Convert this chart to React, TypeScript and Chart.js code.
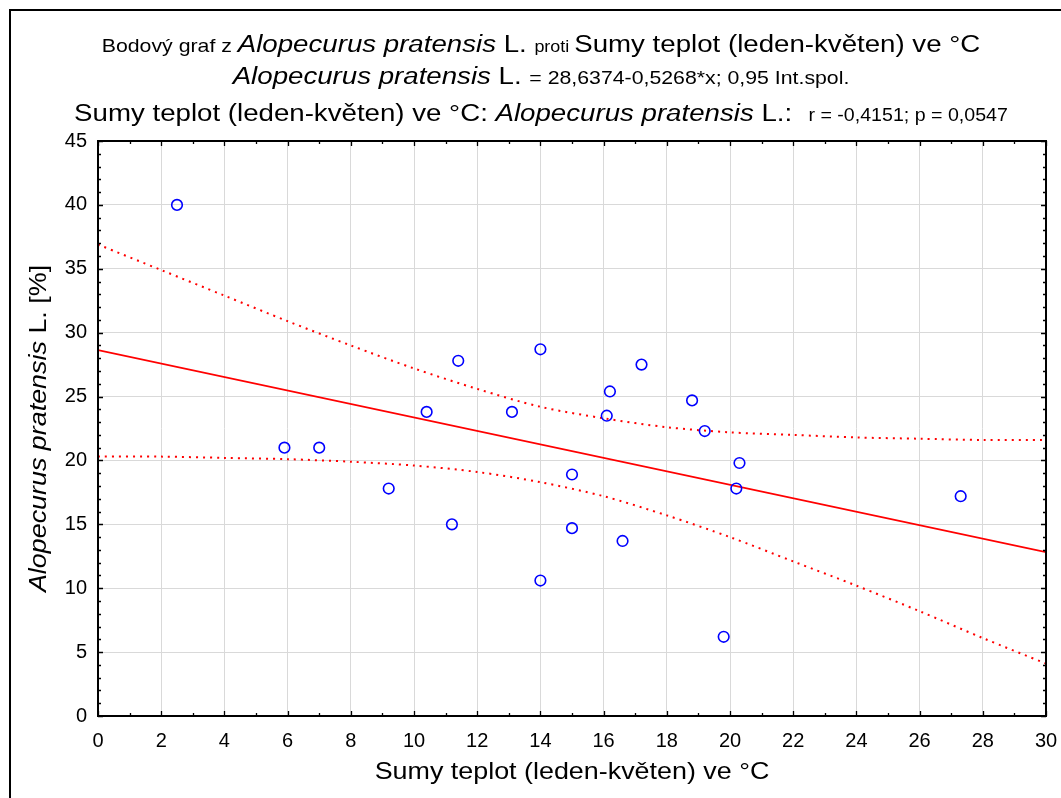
import React, { useEffect, useRef } from "react";
import { Chart, registerables } from "chart.js";

Chart.register(...registerables);

// Observed data (x: Sumy teplot, y: Alopecurus pratensis L. [%])
const sumyTeplot = [2.5, 5.9, 7.0, 9.2, 10.4, 11.2, 11.4, 13.1, 14.0, 14.0, 15.0, 15.0, 16.1, 16.2, 16.6, 17.2, 18.8, 19.2, 19.8, 20.2, 20.3, 27.3];
const alopecurus = [40.0, 21.0, 21.0, 17.8, 23.8, 15.0, 27.8, 23.8, 28.7, 10.6, 18.9, 14.7, 23.5, 25.4, 13.7, 27.5, 24.7, 22.3, 6.2, 17.8, 19.8, 17.2];

// Regression line endpoints
const regX = [0, 30];
const regY = [28.64, 12.83];

// 0.95 confidence band
const bandX = [0, 2, 4, 6, 8, 10, 12, 14, 16, 18, 20, 22, 24, 26, 28, 30];
const bandUpper = [36.9, 34.9, 32.9, 30.9, 29.0, 27.2, 25.6, 24.2, 23.3, 22.6, 22.2, 22.0, 21.8, 21.7, 21.6, 21.6];
const bandLower = [20.3, 20.3, 20.2, 20.1, 19.9, 19.6, 19.1, 18.3, 17.2, 15.7, 14.0, 12.1, 10.2, 8.2, 6.1, 4.1];

const FF = '"Liberation Sans", Arial, sans-serif';
const SX = 1.12;

type Seg = { t: string; size: number; italic?: boolean };

const titleLine1: Seg[] = [
  { t: "Bodový graf z ", size: 19 },
  { t: "Alopecurus pratensis", size: 24.7, italic: true },
  { t: " L. ", size: 24.7 },
  { t: "proti ", size: 16 },
  { t: "Sumy teplot (leden-květen) ve °C", size: 24.7 },
];
const titleLine2: Seg[] = [
  { t: "Alopecurus pratensis", size: 24.7, italic: true },
  { t: " L. ", size: 24.7 },
  { t: "= 28,6374-0,5268*x; 0,95 Int.spol.", size: 19 },
];
const titleLine3: Seg[] = [
  { t: "Sumy teplot (leden-květen) ve °C: ", size: 24.7 },
  { t: "Alopecurus pratensis", size: 24.7, italic: true },
  { t: " L.:", size: 24.7 },
  { t: "   r = -0,4151; p = 0,0547", size: 17.5 },
];
const xTitle: Seg[] = [{ t: "Sumy teplot (leden-květen) ve °C", size: 24 }];
const yTitle: Seg[] = [
  { t: "Alopecurus pratensis", size: 24, italic: true },
  { t: " L. [%]", size: 24 },
];

function fontOf(s: Seg) {
  return `${s.italic ? "italic " : ""}${s.size}px ${FF}`;
}

function drawSegs(ctx: CanvasRenderingContext2D, segs: Seg[], cx: number, by: number) {
  let total = 0;
  const widths = segs.map((s) => {
    ctx.font = fontOf(s);
    const w = ctx.measureText(s.t).width * SX;
    total += w;
    return w;
  });
  let x = cx - total / 2;
  segs.forEach((s, i) => {
    ctx.save();
    ctx.font = fontOf(s);
    ctx.fillStyle = "#000";
    ctx.textBaseline = "alphabetic";
    ctx.textAlign = "left";
    ctx.translate(x, by);
    ctx.scale(SX, 1);
    ctx.fillText(s.t, 0, 0);
    ctx.restore();
    x += widths[i];
  });
}

const decorPlugin = {
  id: "decor",
  afterDraw(chart: any) {
    const ctx: CanvasRenderingContext2D = chart.ctx;
    const { left, right, top, bottom } = chart.chartArea;
    const xs = chart.scales.x;
    const ys = chart.scales.y;
    ctx.save();
    // outer frame (top & left visible)
    ctx.fillStyle = "#000";
    ctx.fillRect(9, 9, 2, chart.height - 9);
    ctx.fillRect(9, 9, chart.width - 9, 2);

    // inward ticks on all four sides
    ctx.strokeStyle = "#000";
    ctx.lineWidth = 1.3;
    ctx.beginPath();
    for (let v = xs.min; v <= xs.max; v += 1) {
      const px = Math.round(xs.getPixelForValue(v)) + 0.5;
      const len = v % 2 === 0 ? 5 : 3;
      ctx.moveTo(px, bottom);
      ctx.lineTo(px, bottom - len);
      ctx.moveTo(px, top);
      ctx.lineTo(px, top + len);
    }
    for (let v = ys.min; v <= ys.max; v += 1) {
      const py = Math.round(ys.getPixelForValue(v)) + 0.5;
      const len = v % 5 === 0 ? 5 : 3;
      ctx.moveTo(left, py);
      ctx.lineTo(left + len, py);
      ctx.moveTo(right, py);
      ctx.lineTo(right - len, py);
    }
    ctx.stroke();

    // plot box
    ctx.lineWidth = 2;
    ctx.strokeRect(left, top, right - left, bottom - top);

    // titles
    drawSegs(ctx, titleLine1, 541, 52);
    drawSegs(ctx, titleLine2, 541, 84);
    drawSegs(ctx, titleLine3, 541, 121);

    // axis titles
    drawSegs(ctx, xTitle, (left + right) / 2, 779);
    ctx.save();
    ctx.translate(46, (top + bottom) / 2);
    ctx.rotate(-Math.PI / 2);
    drawSegs(ctx, yTitle, 0, 0);
    ctx.restore();

    ctx.restore();
  },
};

export default function App() {
  const ref = useRef<HTMLCanvasElement | null>(null);

  useEffect(() => {
    if (!ref.current) return;
    const points = sumyTeplot.map((x, i) => ({ x, y: alopecurus[i] }));
    const reg = regX.map((x, i) => ({ x, y: regY[i] }));
    const up = bandX.map((x, i) => ({ x, y: bandUpper[i] }));
    const lo = bandX.map((x, i) => ({ x, y: bandLower[i] }));

    const chart = new Chart(ref.current, {
      type: "scatter",
      data: {
        datasets: [
          {
            label: "upper",
            data: up,
            showLine: true,
            borderColor: "#ff0000",
            borderWidth: 2,
            borderDash: [2, 5],
            pointRadius: 0,
            tension: 0.3,
            order: 3,
          },
          {
            label: "lower",
            data: lo,
            showLine: true,
            borderColor: "#ff0000",
            borderWidth: 2,
            borderDash: [2, 5],
            pointRadius: 0,
            tension: 0.3,
            order: 3,
          },
          {
            label: "reg",
            data: reg,
            showLine: true,
            borderColor: "#ff0000",
            borderWidth: 1.8,
            pointRadius: 0,
            order: 2,
          },
          {
            label: "data",
            data: points,
            pointStyle: "circle",
            pointRadius: 5.3,
            pointBorderWidth: 1.6,
            pointBorderColor: "#0000ff",
            pointBackgroundColor: "rgba(0,0,0,0)",
            order: 1,
          },
        ],
      },
      options: {
        animation: false,
        responsive: false,
        maintainAspectRatio: false,
        devicePixelRatio: 1,
        layout: { padding: { top: 141, right: 15, left: 0, bottom: 0 } },
        plugins: {
          legend: { display: false },
          title: { display: false },
          tooltip: { enabled: false },
        },
        scales: {
          x: {
            type: "linear",
            min: 0,
            max: 30,
            afterFit: (s: any) => {
              s.height = 82;
              s.paddingLeft = 0;
              s.paddingRight = 0;
            },
            grid: { color: "#d9d9d9", lineWidth: 1, drawTicks: false },
            border: { display: false },
            ticks: {
              stepSize: 2,
              padding: 13,
              color: "#000",
              font: { family: FF, size: 20 },
              maxRotation: 0,
              autoSkip: false,
            },
          },
          y: {
            type: "linear",
            min: 0,
            max: 45,
            afterFit: (s: any) => {
              s.width = 98;
            },
            grid: { color: "#d9d9d9", lineWidth: 1, drawTicks: false },
            border: { display: false },
            ticks: {
              stepSize: 5,
              padding: 11,
              color: "#000",
              font: { family: FF, size: 20 },
              autoSkip: false,
            },
          },
        },
      },
      plugins: [decorPlugin],
    });
    return () => chart.destroy();
  }, []);

  return (
    <div style={{ position: "fixed", left: 0, top: 0, width: 1061, height: 798, background: "#fff", overflow: "hidden" }}>
      <canvas ref={ref} width={1061} height={798} style={{ display: "block", width: 1061, height: 798 }} />
    </div>
  );
}
